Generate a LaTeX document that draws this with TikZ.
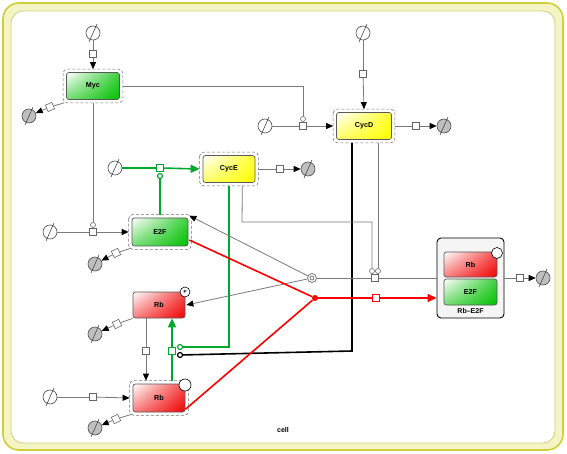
\documentclass[tikz,border=0pt]{standalone}
\usepackage{fontspec}
\setmainfont{Liberation Sans}
\usetikzlibrary{arrows.meta,calc,shadings}
\definecolor{frameY}{HTML}{CFCF3A}
\definecolor{frameF}{HTML}{F4F4C4}
\definecolor{innerB}{HTML}{D0D080}
\definecolor{lnGray}{HTML}{7A7A7A}
\definecolor{sbgnGreen}{HTML}{00A82D}
\definecolor{boxGreen}{HTML}{00C000}
\definecolor{boxRed}{HTML}{F00000}
\definecolor{boxYellow}{HTML}{FFFF00}
\tikzset{
  ent/.style={rectangle, rounded corners=2.5pt, minimum width=53pt, minimum height=27pt, draw=black!65, line width=0.7pt, font=\bfseries\fontsize{7.2}{8}\selectfont, inner sep=0pt},
  greenent/.style={ent, upper left=white, lower left=boxGreen!55, upper right=boxGreen!75, lower right=boxGreen},
  yellowent/.style={ent, upper left=white, lower left=boxYellow!60, upper right=boxYellow!80, lower right=boxYellow},
  redent/.style={ent, upper left=white, lower left=boxRed!50, upper right=boxRed!70, lower right=boxRed},
  srcnode/.style={circle, draw=black!70, fill=white, minimum size=14pt, inner sep=0pt, line width=0.6pt},
  sinknode/.style={circle, draw=black!70, fill=black!25, minimum size=14pt, inner sep=0pt, line width=0.6pt},
  proc/.style={rectangle, draw=black!60, fill=white, minimum size=7pt, inner sep=0pt, line width=0.6pt},
  modc/.style={circle, draw=black!60, fill=white, minimum size=5pt, inner sep=0pt, line width=0.6pt},
  ln/.style={draw=lnGray, line width=0.8pt},
  arr/.style={ln, -{Triangle[length=7pt,width=6pt,color=black,fill=black]}},
  gln/.style={draw=sbgnGreen, line width=1.6pt},
  garr/.style={gln, -{Triangle[length=9pt,width=8pt]}},
  rln/.style={draw=red, line width=1.6pt},
  rarr/.style={rln, -{Triangle[length=9pt,width=8pt]}},
  bln/.style={draw=black, line width=1.6pt},
  slashln/.style={draw=black!70, line width=0.6pt},
  dashframe/.style={draw=black!55, densely dashed, line width=0.6pt, rounded corners=4pt},
  lbl/.style={font=\bfseries\fontsize{7}{8}\selectfont, inner sep=0pt}
}
\newcommand{\mkslash}[1]{\draw[slashln] ([shift={(-4pt,-9pt)}]#1.center) -- ([shift={(4pt,9pt)}]#1.center);}
\newcommand{\mkdash}[1]{\draw[dashframe] ([shift={(-3pt,3pt)}]#1.north west) rectangle ([shift={(3pt,-3pt)}]#1.south east);}
\begin{document}
\begin{tikzpicture}[x=1pt,y=-1pt]
\useasboundingbox (0,0) rectangle (567,454);
% compartment
\draw[draw=frameY, fill=frameF, line width=1.6pt, rounded corners=16pt] (3,3) rectangle (563,450);
\draw[draw=innerB, fill=white, line width=0.8pt, rounded corners=12pt] (11,11) rectangle (555,443);
\node[lbl] (cell) at (283,430) {cell};

% entity pool nodes
\node[greenent] (myc) at (93,86) {Myc};
\node[yellowent, minimum width=55pt] (cycd) at (364,126) {CycD};
\node[yellowent, minimum width=52pt] (cyce) at (229,169) {CycE};
\node[greenent, minimum width=56pt, minimum height=28pt] (e2f) at (160,232) {E2F};
\node[redent, minimum width=52pt, minimum height=26pt] (rbp) at (159,305) {Rb};
\node[redent, minimum width=52pt, minimum height=28pt] (rb) at (159,398) {Rb};
\mkdash{myc}
\mkdash{cycd}
\mkdash{cyce}
\mkdash{e2f}
\mkdash{rb}
\node[circle, draw=black, fill=white, minimum size=10pt, inner sep=0pt, font=\bfseries\fontsize{4.5}{5}\selectfont, line width=0.6pt] (pstate) at (185,292) {P};
\node[circle, draw=black, fill=white, minimum size=12pt, inner sep=0pt, line width=0.6pt] (rbstate) at (185,385) {};

% complex
\node[rectangle, rounded corners=4pt, draw=black, fill=black!4, line width=0.9pt, minimum width=67pt, minimum height=80pt] (cplx) at (470.5,278) {};
\node[redent, minimum width=53pt, minimum height=25pt] (crb) at (470.5,264.5) {Rb};
\node[greenent, minimum width=53pt, minimum height=26pt] (ce2f) at (470.5,292) {E2F};
\node[lbl] (clbl) at (470.5,311) {Rb--E2F};
\node[circle, draw=black, fill=white, minimum size=11pt, inner sep=0pt, line width=0.6pt] (cstate) at (497,253) {};

% sources / sinks
\node[srcnode] (s_myc) at (93,33) {};
\node[srcnode] (s_cycd) at (363,33) {};
\node[srcnode] (s_cycd2) at (265,126) {};
\node[srcnode] (s_cyce) at (115,168) {};
\node[srcnode] (s_e2f) at (50,232) {};
\node[srcnode] (s_rb) at (50,397) {};
\node[sinknode] (k_myc) at (29,116) {};
\node[sinknode] (k_cycd) at (444,126) {};
\node[sinknode] (k_cyce) at (308,169) {};
\node[sinknode] (k_e2f) at (95,264) {};
\node[sinknode] (k_rbp) at (95,334) {};
\node[sinknode] (k_rb) at (95,428) {};
\node[sinknode] (k_cplx) at (543,278) {};
\foreach \n in {s_myc,s_cycd,s_cycd2,s_cyce,s_e2f,s_rb,k_myc,k_cycd,k_cyce,k_e2f,k_rbp,k_rb,k_cplx} {\mkslash{\n}}

% process nodes
\node[proc] (p_myc) at (93,54) {};
\node[proc] (p_cycd) at (363,74) {};
\node[proc] (p_cycd2) at (303,126) {};
\node[proc, draw=sbgnGreen, line width=1.2pt] (p_cyce) at (160,168) {};
\node[proc] (p_e2f) at (93,232) {};
\node[proc] (p_rb) at (93,397) {};
\node[proc, rotate=23] (d_myc) at (50,107) {};
\node[proc] (d_cycd) at (416,126) {};
\node[proc] (d_cyce) at (280,169) {};
\node[proc, rotate=25] (d_e2f) at (116,253) {};
\node[proc, rotate=25] (d_rbp) at (117,324) {};
\node[proc, rotate=25] (d_rb) at (116,419) {};
\node[proc] (d_cplx) at (520,278) {};
\node[proc] (p_deph) at (146,351) {};
\node[proc, draw=sbgnGreen, line width=1.2pt] (p_phos) at (172,351) {};
\node[proc] (p_diss) at (375,278) {};
\node[proc, draw=red, line width=1.2pt] (p_assoc) at (376,298) {};

% modulator circles
\node[modc] (m_e2f) at (93,225) {};
\node[modc] (m_cycd2) at (303,119) {};
\node[modc, draw=sbgnGreen, line width=1.2pt] (m_cyce) at (160,176) {};
\node[modc, draw=sbgnGreen, line width=1.2pt] (m_ph1) at (180,347) {};
\node[modc, draw=black, line width=1.2pt] (m_ph2) at (180,355) {};
\node[modc] (m_d1) at (372,271) {};
\node[modc] (m_d2) at (378,271) {};
% dissociation / association glyphs
\node[circle, draw=lnGray, fill=white, minimum size=9pt, inner sep=0pt, line width=0.8pt] (diss) at (312,278) {};
\node[circle, draw=lnGray, fill=white, minimum size=4pt, inner sep=0pt, line width=0.8pt] (dissin) at (312,278) {};
\node[circle, fill=red, minimum size=6pt, inner sep=0pt] (assoc) at (315,298) {};

% synthesis / degradation
\draw[ln] (s_myc) -- (p_myc);
\draw[arr] (p_myc) -- ([yshift=3pt]myc.north);
\draw[ln] (s_cycd) -- (p_cycd);
\draw[arr] (p_cycd) -- ([yshift=3pt]cycd.north);
\draw[ln] (s_cycd2) -- (p_cycd2);
\draw[arr] (p_cycd2) -- ([xshift=-3pt]cycd.west);
\draw[ln] (s_e2f) -- (p_e2f);
\draw[arr] (p_e2f) -- ([xshift=-3pt]e2f.west);
\draw[ln] (s_rb) -- (p_rb);
\draw[arr] (p_rb) -- ([xshift=-3pt]rb.west);
\draw[gln] (s_cyce) -- (p_cyce);
\draw[garr] (p_cyce) -- ([xshift=-3pt]cyce.west);

\draw[ln] ([shift={(-2pt,-3pt)}]myc.south west) -- (d_myc);
\draw[arr] (d_myc) -- (k_myc);
\draw[ln] ([xshift=3pt]cycd.east) -- (d_cycd);
\draw[arr] (d_cycd) -- (k_cycd);
\draw[ln] ([xshift=3pt]cyce.east) -- (d_cyce);
\draw[arr] (d_cyce) -- (k_cyce);
\draw[ln] ([shift={(-1pt,-2pt)}]e2f.south west) -- (d_e2f);
\draw[arr] (d_e2f) -- (k_e2f);
\draw[ln] (rbp.south west) -- (d_rbp);
\draw[arr] (d_rbp) -- (k_rbp);
\draw[ln] ([shift={(-1pt,-2pt)}]rb.south west) -- (d_rb);
\draw[arr] (d_rb) -- (k_rb);
\draw[ln] (cplx.east) -- (d_cplx);
\draw[arr] (d_cplx) -- (k_cplx);

% modulations
\draw[ln] ([yshift=-3pt]myc.south) -- (m_e2f);
\draw[ln] ([xshift=3pt]myc.east) -- (m_cycd2 |- myc.east) -- (m_cycd2);
\draw[gln] ([yshift=3pt]e2f.north) -- (m_cyce);

% dephosphorylation / phosphorylation
\draw[ln] ([xshift=-13pt]rbp.south) -- (p_deph);
\draw[arr] (p_deph) -- ([shift={(-13pt,3pt)}]rb.north);
\draw[gln] ([shift={(13pt,3pt)}]rb.north) -- (p_phos);
\draw[garr] (p_phos) -- ([xshift=13pt]rbp.south);
\draw[gln] ([yshift=-3pt]cyce.south) -- (229,347) -- (m_ph1);
\draw[bln] ([shift={(-12pt,-3pt)}]cycd.south) -- (352,351) -- (m_ph2);

% dissociation
\draw[ln] ([shift={(-13pt,-3pt)}]cyce.south east) -- (242,222) -- (372,222) -- (m_d1);
\draw[ln] ([shift={(14pt,-3pt)}]cycd.south) -- (m_d2);
\draw[ln] (cplx.west) -- (p_diss);
\draw[ln] (p_diss) -- (diss);
\draw[arr] (diss) -- ([shift={(1pt,2pt)}]e2f.north east);
\draw[arr] (diss) -- ([xshift=1pt]rbp.east);

% association
\draw[rln] ([shift={(1pt,-8pt)}]e2f.east) -- (assoc);
\draw[rln] ([shift={(0pt,3pt)}]rb.south east) -- (assoc);
\draw[rln] (assoc) -- (p_assoc);
\draw[rarr] (p_assoc) -- (cplx.west |- p_assoc);
\end{tikzpicture}
\end{document}
